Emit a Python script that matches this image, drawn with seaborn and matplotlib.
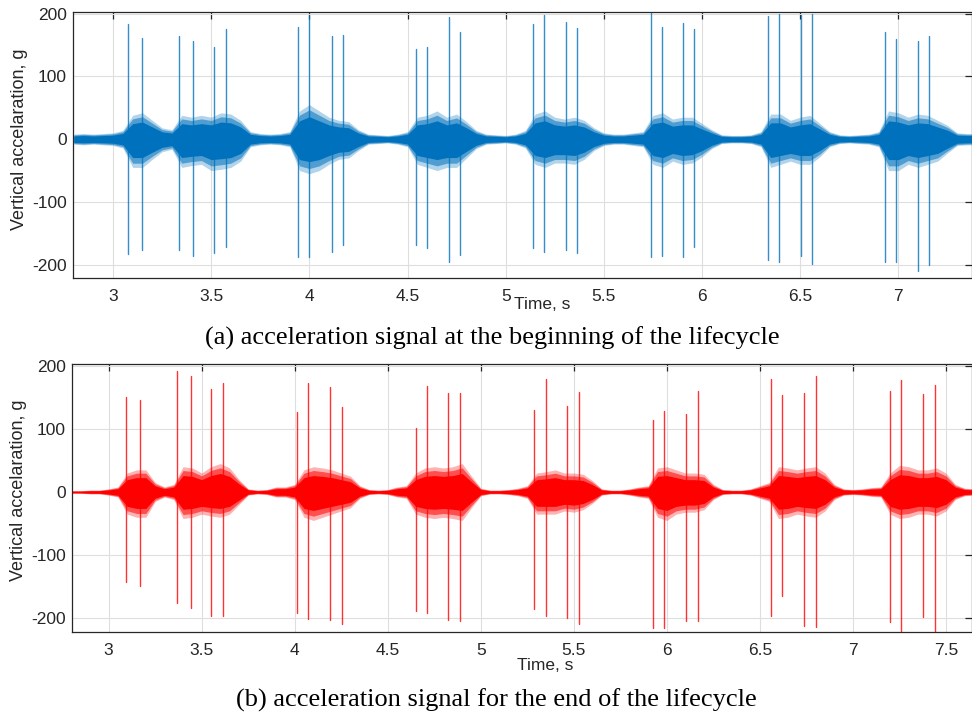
import numpy as np
import pandas as pd
import matplotlib
matplotlib.use("Agg")
import matplotlib.pyplot as plt
import seaborn as sns

# ---------------------------------------------------------------------------
# Vertical acceleration records, start (a) and end (b) of the lifecycle.
# Each record: envelope of the broadband vibration, sampled every 50 ms,
# plus the large impact spikes (time, positive peak, negative peak).
# ---------------------------------------------------------------------------
time_a = np.round(np.arange(2.80, 7.40 + 1e-9, 0.05), 2)
upper_a = [8, 9, 8, 9, 10, 14, 38, 42, 30, 18,
           15, 38, 35, 38, 35, 42, 40, 30, 12, 9,
           8, 9, 12, 45, 55, 45, 35, 30, 28, 15,
           8, 7, 6, 8, 12, 35, 38, 45, 35, 40,
           28, 14, 8, 7, 6, 8, 14, 40, 45, 35,
           32, 35, 30, 18, 10, 8, 8, 10, 12, 38,
           42, 32, 35, 35, 25, 15, 7, 6, 6, 7,
           12, 40, 40, 30, 35, 38, 25, 12, 7, 6,
           7, 8, 12, 45, 42, 35, 40, 38, 30, 22,
           10, 9, 9]
lower_a = [-8, -9, -8, -9, -10, -14, -45, -45, -32, -20,
           -16, -45, -42, -40, -50, -48, -45, -35, -12, -9,
           -8, -9, -12, -50, -55, -50, -40, -32, -30, -18,
           -8, -7, -6, -8, -12, -40, -45, -50, -45, -45,
           -30, -15, -8, -7, -6, -8, -14, -40, -45, -38,
           -38, -40, -32, -18, -10, -8, -8, -10, -12, -40,
           -45, -35, -40, -38, -28, -15, -7, -6, -6, -7,
           -12, -45, -40, -35, -40, -40, -28, -12, -7, -6,
           -7, -8, -12, -50, -50, -40, -45, -40, -35, -22,
           -10, -9, -9]
spike_t_a = [3.078, 3.148, 3.338, 3.406, 3.516, 3.574, 3.944, 4.000,
             4.116, 4.172, 4.544, 4.600, 4.713, 4.769, 5.141, 5.197,
             5.309, 5.365, 5.739, 5.797, 5.905, 5.961, 6.337, 6.393,
             6.505, 6.561, 6.933, 6.989, 7.099, 7.155]
spike_hi_a = [184, 161, 165, 157, 147, 176, 179, 197, 165, 166,
              144, 147, 194, 170, 184, 198, 186, 177, 201, 178,
              185, 175, 196, 200, 198, 200, 170, 160, 156, 164]
spike_lo_a = [-183, -177, -177, -186, -181, -172, -187, -187, -180, -168,
              -168, -174, -195, -184, -174, -180, -177, -181, -188, -186,
              -187, -171, -192, -196, -186, -199, -196, -196, -210, -200]

time_b = np.round(np.arange(2.80, 7.65 + 1e-9, 0.05), 2)
upper_b = [2, 2, 3, 3, 5, 8, 30, 35, 35, 15,
           8, 12, 40, 38, 30, 40, 45, 38, 20, 5,
           3, 4, 8, 8, 12, 35, 40, 38, 35, 30,
           25, 10, 4, 3, 4, 8, 10, 30, 38, 40,
           38, 40, 45, 25, 6, 3, 3, 4, 6, 10,
           30, 32, 35, 30, 30, 28, 18, 5, 3, 3,
           5, 8, 10, 38, 40, 35, 30, 30, 28, 12,
           4, 3, 3, 5, 10, 15, 40, 38, 35, 38,
           40, 30, 12, 5, 4, 5, 7, 8, 30, 42,
           40, 35, 35, 38, 30, 12, 6, 5]
lower_b = [-2, -2, -3, -3, -5, -8, -35, -40, -40, -15,
           -8, -12, -42, -40, -35, -38, -40, -35, -20, -5,
           -3, -4, -8, -8, -12, -40, -45, -40, -35, -30,
           -25, -10, -4, -3, -4, -8, -10, -35, -40, -42,
           -40, -42, -45, -25, -6, -3, -3, -4, -6, -10,
           -35, -35, -35, -30, -32, -28, -18, -5, -3, -3,
           -5, -8, -10, -40, -45, -35, -32, -32, -28, -12,
           -4, -3, -3, -5, -10, -15, -42, -40, -35, -38,
           -40, -30, -12, -5, -4, -5, -7, -8, -35, -42,
           -40, -35, -35, -38, -30, -12, -6, -5]
spike_t_b = [3.093, 3.167, 3.369, 3.442, 3.552, 3.616, 4.012, 4.073,
             4.190, 4.254, 4.652, 4.711, 4.826, 4.887, 5.285, 5.351,
             5.466, 5.527, 5.925, 5.984, 6.102, 6.165, 6.561, 6.621,
             6.738, 6.801, 7.197, 7.258, 7.378, 7.439]
spike_hi_b = [150, 145, 192, 183, 163, 172, 127, 173, 166, 134,
              102, 167, 157, 157, 130, 179, 136, 158, 114, 128,
              123, 160, 179, 153, 156, 183, 160, 177, 155, 170]
spike_lo_b = [-143, -148, -175, -184, -196, -196, -191, -201, -202, -209,
              -188, -191, -202, -204, -185, -196, -199, -209, -215, -215,
              -204, -204, -196, -164, -212, -214, -206, -225, -198, -225]

xticks_a = [3, 3.5, 4, 4.5, 5, 5.5, 6, 6.5, 7]
xticks_b = [3, 3.5, 4, 4.5, 5, 5.5, 6, 6.5, 7, 7.5]
yticks = [-200, -100, 0, 100, 200]

ylabel = "Vertical accelaration, g"
xlabel = "Time, s"
caption_a = "(a) acceleration signal at the beginning of the lifecycle"
caption_b = "(b) acceleration signal for the end of the lifecycle"

BLUE = "#0072BD"
RED = "#FF0000"
INK = "#262626"

sns.set_theme(style="whitegrid")
plt.rcParams.update({
    "font.family": ["Liberation Sans", "DejaVu Sans"],
    "axes.unicode_minus": False,
    "axes.edgecolor": INK,
    "axes.linewidth": 0.9,
    "grid.color": "#dedede",
    "grid.linewidth": 0.8,
})

W, H = 972, 716
fig = plt.figure(figsize=(W / 100, H / 100), dpi=100)
fig.patch.set_facecolor("white")


def px_axes(left, top, right, bottom):
    return fig.add_axes([left / W, 1 - bottom / H, (right - left) / W, (bottom - top) / H])


def draw_record(ax, t, up, lo, st, shi, slo, color):
    # broadband vibration: denser towards the middle, sparse towards the peaks
    for frac, alpha in ((1.0, 0.30), (0.85, 0.55), (0.65, 1.0)):
        ax.fill_between(t, [frac * v for v in lo], [frac * v for v in up],
                        color=color, lw=0, alpha=alpha, zorder=2)
    # impact spikes, one vertical stroke each
    spikes = pd.DataFrame({
        "spike": list(range(len(st))) * 2,
        "t": list(st) * 2,
        "g": list(shi) + list(slo),
    })
    sns.lineplot(data=spikes, x="t", y="g", units="spike", estimator=None,
                 sort=False, color=color, lw=1.0, alpha=0.8, ax=ax, zorder=3)


def style_axes(ax, xlim, xticks, xlab_x, xlab_y):
    ax.set_xlim(*xlim)
    ax.set_ylim(-221, 202)
    ax.set_xticks(xticks)
    ax.set_xticklabels([f"{v:g}" for v in xticks])
    ax.set_yticks(yticks)
    ax.set_yticklabels([f"{v:d}" for v in yticks])
    ax.set_axisbelow(True)
    ax.grid(True, color="#dedede", lw=0.8)
    ax.tick_params(direction="in", top=True, right=True, length=5, width=0.9,
                   color=INK, labelcolor=INK, labelsize=12.5)
    ax.tick_params(axis="x", pad=8)
    ax.tick_params(axis="y", pad=4.5)
    for s in ax.spines.values():
        s.set_visible(True)
        s.set_color(INK)
        s.set_linewidth(0.9)
    ax.set_ylabel(ylabel, fontsize=13, color=INK)
    ax.set_xlabel(xlabel, fontsize=12.5, color=INK)
    ax.xaxis.set_label_coords(xlab_x, xlab_y)


ax1 = px_axes(73, 12.3, 972, 278)
draw_record(ax1, time_a, upper_a, lower_a, spike_t_a, spike_hi_a, spike_lo_a, BLUE)
style_axes(ax1, (2.796, 7.375), xticks_a, (542 - 73) / 899, (278 - 297) / 265.7)
ax1.yaxis.set_label_coords(-0.05, 0.524)

ax2 = px_axes(72, 364.3, 972, 631.7)
draw_record(ax2, time_b, upper_b, lower_b, spike_t_b, spike_hi_b, spike_lo_b, RED)
style_axes(ax2, (2.803, 7.64), xticks_b, (545 - 72) / 900, (631.7 - 658) / 267.4)
ax2.yaxis.set_label_coords(-0.05, 0.528)

fig.text(492 / W, 1 - 338 / H, caption_a, ha="center", va="center",
         fontsize=19, family=["Liberation Serif", "DejaVu Serif"], color="black")
fig.text(496 / W, 1 - 700 / H, caption_b, ha="center", va="center",
         fontsize=19, family=["Liberation Serif", "DejaVu Serif"], color="black")

fig.savefig("out.png", dpi=100, facecolor="white")
